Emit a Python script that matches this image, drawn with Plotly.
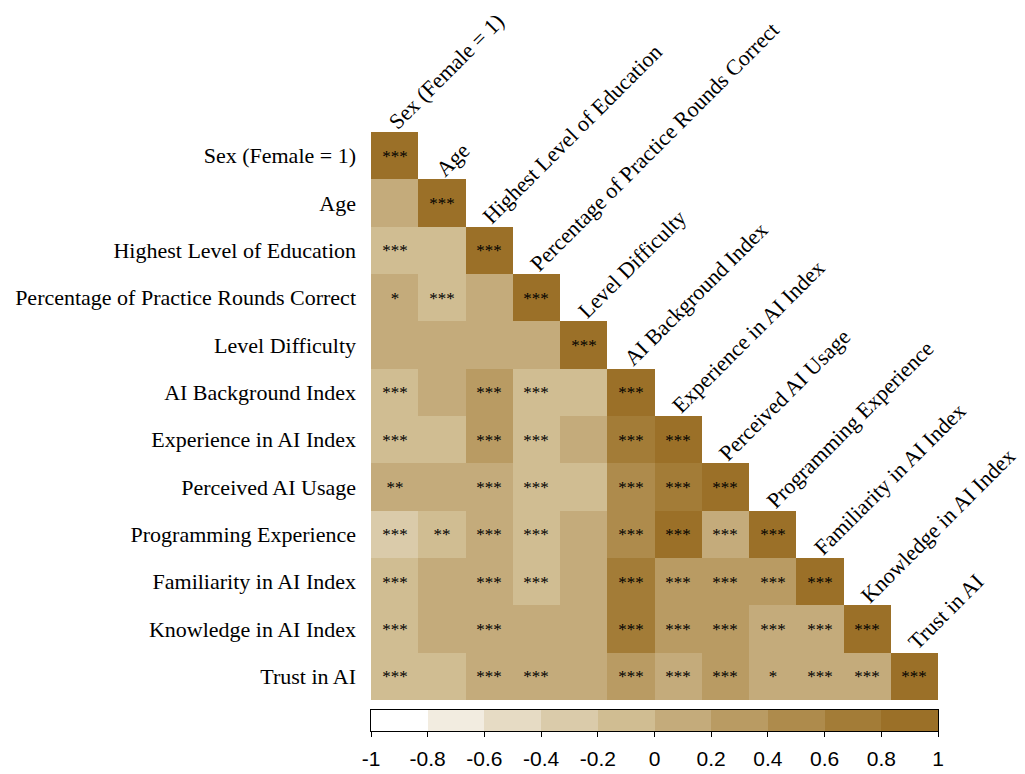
import plotly.graph_objects as go

labels = [
    "Sex (Female = 1)", "Age", "Highest Level of Education",
    "Percentage of Practice Rounds Correct", "Level Difficulty",
    "AI Background Index", "Experience in AI Index", "Perceived AI Usage",
    "Programming Experience", "Familiarity in AI Index",
    "Knowledge in AI Index", "Trust in AI",
]

# lower-triangular correlation values (row i, columns 0..i)
corr_rows = [
    [1.00],
    [0.06, 1.00],
    [-0.11, -0.08, 1.00],
    [0.07, -0.15, 0.03, 1.00],
    [0.02, 0.01, 0.04, 0.05, 1.00],
    [-0.14, 0.04, 0.27, -0.18, -0.06, 1.00],
    [-0.16, -0.05, 0.25, -0.17, 0.03, 0.72, 1.00],
    [0.12, 0.05, 0.15, -0.16, -0.04, 0.55, 0.68, 1.00],
    [-0.24, -0.12, 0.18, -0.13, 0.02, 0.52, 0.83, 0.16, 1.00],
    [-0.15, 0.03, 0.19, -0.14, 0.04, 0.74, 0.36, 0.33, 0.31, 1.00],
    [-0.13, 0.05, 0.17, 0.06, 0.03, 0.71, 0.34, 0.32, 0.19, 0.18, 1.00],
    [-0.12, -0.07, 0.14, 0.11, 0.05, 0.29, 0.17, 0.26, 0.08, 0.16, 0.18, 1.00],
]

sig_rows = [
    ["***"],
    ["", "***"],
    ["***", "", "***"],
    ["*", "***", "", "***"],
    ["", "", "", "", "***"],
    ["***", "", "***", "***", "", "***"],
    ["***", "", "***", "***", "", "***", "***"],
    ["**", "", "***", "***", "", "***", "***", "***"],
    ["***", "**", "***", "***", "", "***", "***", "***", "***"],
    ["***", "", "***", "***", "", "***", "***", "***", "***", "***"],
    ["***", "", "***", "", "", "***", "***", "***", "***", "***", "***"],
    ["***", "", "***", "***", "", "***", "***", "***", "*", "***", "***", "***"],
]

bin_colors = ["#FFFFFF", "#F2ECE0", "#E6DBC4", "#DACBAA", "#D0BD92",
              "#C4AB7B", "#B99B63", "#AE8B4C", "#A37C37", "#9B7028"]
colorbar_ticks = [-1, -0.8, -0.6, -0.4, -0.2, 0, 0.2, 0.4, 0.6, 0.8, 1]

n = len(labels)
z = [[corr_rows[i][j] if j <= i else None for j in range(n)] for i in range(n)]
txt = [[sig_rows[i][j] if j <= i else "" for j in range(n)] for i in range(n)]

nb = len(bin_colors)
colorscale = []
for k, c in enumerate(bin_colors):
    colorscale.append([k / nb, c])
    colorscale.append([(k + 1) / nb, c])

# bin midpoints for the colour key
key_mid = [(colorbar_ticks[k] + colorbar_ticks[k + 1]) / 2 for k in range(len(colorbar_ticks) - 1)]

fig = go.Figure()
fig.add_trace(go.Heatmap(
    x=labels, y=labels, z=z, text=txt, texttemplate="%{text}",
    textfont=dict(family="Liberation Serif", size=17, color="black"),
    zmin=-1, zmax=1, colorscale=colorscale, hoverongaps=False, showscale=False,
    xaxis="x", yaxis="y",
))
# colour key drawn as its own small heatmap strip
fig.add_trace(go.Heatmap(
    x=colorbar_ticks, y=[0, 1], z=[key_mid],
    zmin=-1, zmax=1, colorscale=colorscale, showscale=False,
    xaxis="x2", yaxis="y2", hoverinfo="skip",
))

for lab in labels:
    fig.add_annotation(
        x=lab, y=lab, xref="x", yref="y", text=lab, textangle=-45, showarrow=False,
        xanchor="left", yanchor="bottom", xshift=-14, yshift=19,
        font=dict(family="Liberation Serif", size=22, color="black"),
    )

# page body adds an 8px offset; plot spans x 371-938, heatmap y 132-700, key y 710-731
plot_h = 731 - 132
main_bottom = (731 - 700) / plot_h
key_top = (731 - 710) / plot_h

fig.update_layout(
    width=1025, height=774,
    margin=dict(l=363, r=95, t=124, b=51, autoexpand=False),
    plot_bgcolor="white", paper_bgcolor="white",
    showlegend=False,
    xaxis=dict(domain=[0, 1], range=[-0.5, n - 0.5], showticklabels=False,
               showgrid=False, zeroline=False, showline=False, ticks=""),
    yaxis=dict(domain=[main_bottom, 1], range=[n - 0.5, -0.5], showgrid=False,
               zeroline=False, showline=False, ticks="", ticklabelstandoff=14,
               tickfont=dict(family="Liberation Serif", size=22, color="black")),
    xaxis2=dict(domain=[0, 1], anchor="y2", range=[-1, 1],
                tickvals=colorbar_ticks, ticktext=[f"{v:g}" for v in colorbar_ticks],
                ticks="outside", ticklen=5, tickcolor="black", tickwidth=1,
                ticklabelstandoff=4,
                showline=True, mirror=True, linecolor="black", linewidth=1,
                showgrid=False, zeroline=False,
                tickfont=dict(family="Liberation Sans", size=21, color="black")),
    yaxis2=dict(domain=[0, key_top], anchor="x2", range=[0, 1],
                showticklabels=False, ticks="", showgrid=False, zeroline=False,
                showline=True, mirror=True, linecolor="black", linewidth=1),
)

fig.write_html("out.html")
